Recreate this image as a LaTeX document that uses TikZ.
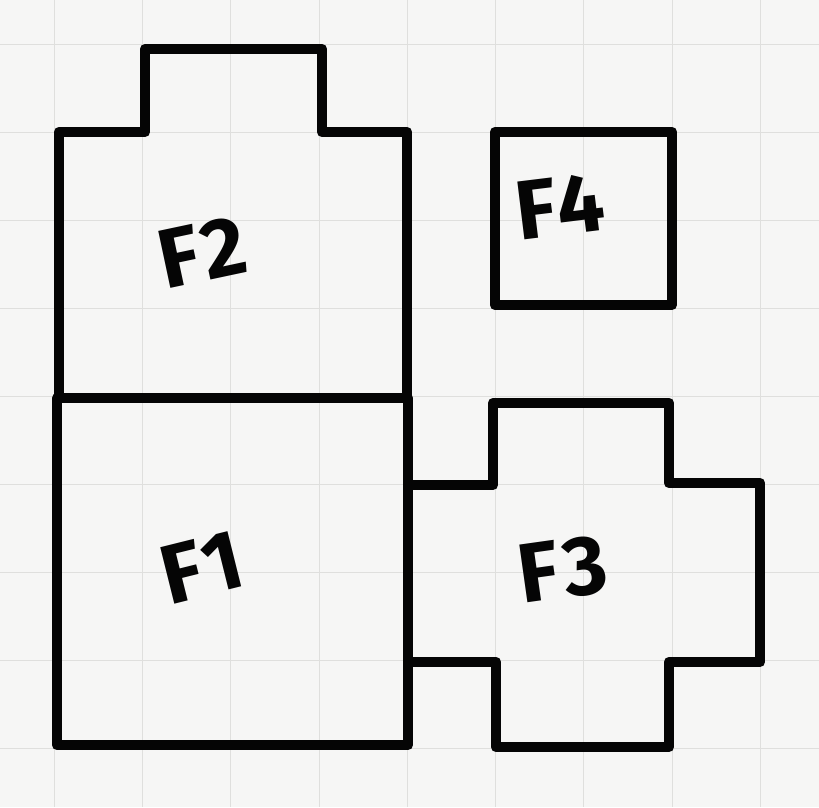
\documentclass[tikz,border=0pt]{standalone}
\usepackage{fontspec}
\setmainfont[LetterSpace=5]{Fira Sans}
\definecolor{paper}{HTML}{F6F6F5}
\definecolor{gridc}{HTML}{DFDFDD}
\definecolor{ink}{HTML}{050505}
\tikzset{
  outline/.style={draw=ink,line width=10.5pt,line join=round,line cap=round},
  gridline/.style={draw=gridc,line width=1pt},
  hand/.style={text=ink,font=\fontsize{84}{84}\selectfont\bfseries,inner sep=0pt}
}
\begin{document}
\begin{tikzpicture}[x=1pt,y=-1pt]
\useasboundingbox (0,0) rectangle (819,807);
\fill[paper] (0,0) rectangle (819,807);
\foreach \g in {54,142,230,319,407,495,583,672,760} \draw[gridline] (\g,0) -- (\g,807);
\foreach \g in {44,132,220,308,396,484,572,660,748} \draw[gridline] (0,\g) -- (819,\g);
% F2
\draw[outline] (59,397) -- (59,132) -- (145,132) -- (145,49) -- (322,49) -- (322,132) -- (407,132) -- (407,397);
% F1
\draw[outline] (57,398) -- (408,398) -- (408,745) -- (57,745) -- cycle;
% F3
\draw[outline] (410,485) -- (493,485) -- (493,403) -- (669,403) -- (669,483) -- (760,483) -- (760,662) -- (669,662) -- (669,747) -- (496,747) -- (496,662) -- (410,662);
% F4
\draw[outline] (495,132) -- (672,132) -- (672,305) -- (495,305) -- cycle;
\node[hand,rotate=12] (f2) at (202,252) {F2};
\node[hand,rotate=14] (f1) at (202,567) {F1};
\node[hand,rotate=8] (f3) at (563,569) {F3};
\node[hand,rotate=7] (f4) at (560,206) {F4};
\end{tikzpicture}
\end{document}
